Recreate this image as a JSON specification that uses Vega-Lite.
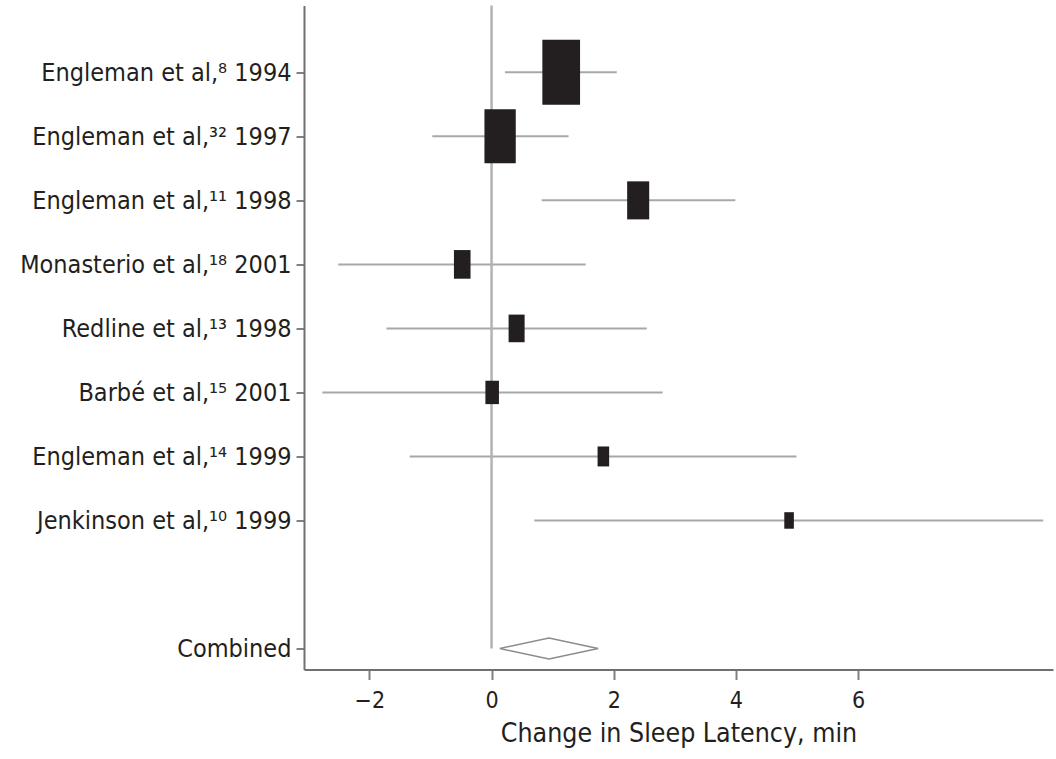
{
  "$schema": "https://vega.github.io/schema/vega-lite/v6.json",
  "width": 749,
  "height": 664,
  "autosize": {"type": "none"},
  "padding": {"left": 304, "top": 5.5, "right": 3, "bottom": 89.5},
  "background": "white",
  "config": {
    "view": {"stroke": null},
    "font": "DejaVu Sans Condensed, sans-serif",
    "axis": {
      "grid": false,
      "domainColor": "#707070",
      "domainWidth": 2,
      "tickColor": "#808080",
      "tickWidth": 2,
      "labelColor": "#231f20",
      "titleColor": "#231f20",
      "labelFont": "DejaVu Sans Condensed, sans-serif",
      "titleFont": "DejaVu Sans Condensed, sans-serif",
      "titleFontWeight": "normal",
      "labelLimit": 0
    }
  },
  "datasets": {
    "studies": [
      {"row": 0, "study": "Engleman et al,⁸ 1994", "est": 1.14, "lo": 0.22, "hi": 2.05, "weight": 37.1},
      {"row": 1, "study": "Engleman et al,³² 1997", "est": 0.14, "lo": -0.97, "hi": 1.26, "weight": 25.6},
      {"row": 2, "study": "Engleman et al,¹¹ 1998", "est": 2.4, "lo": 0.82, "hi": 3.99, "weight": 12.7},
      {"row": 3, "study": "Monasterio et al,¹⁸ 2001", "est": -0.48, "lo": -2.51, "hi": 1.54, "weight": 7.2},
      {"row": 4, "study": "Redline et al,¹³ 1998", "est": 0.41, "lo": -1.72, "hi": 2.54, "weight": 6.7},
      {"row": 5, "study": "Barbé et al,¹⁵ 2001", "est": 0.01, "lo": -2.77, "hi": 2.8, "weight": 4.8},
      {"row": 6, "study": "Engleman et al,¹⁴ 1999", "est": 1.83, "lo": -1.34, "hi": 4.99, "weight": 3.5},
      {"row": 7, "study": "Jenkinson et al,¹⁰ 1999", "est": 4.87, "lo": 0.7, "hi": 9.03, "weight": 2.4}
    ],
    "combined": [
      {"row": 9, "study": "Combined", "est": 0.94, "lo": 0.14, "hi": 1.75, "zero": 0, "top": -1.044}
    ]
  },
  "layer": [
    {
      "data": {"name": "studies"},
      "mark": {"type": "rule", "color": "#a8a8a8", "strokeWidth": 2},
      "encoding": {
        "x": {
          "field": "lo",
          "type": "quantitative",
          "scale": {"domain": [-3.07, 9.19], "nice": false, "zero": false},
          "axis": {
            "values": [-2, 0, 2, 4, 6],
            "format": "d",
            "tickSize": 10,
            "labelFontSize": 23,
            "labelPadding": 10,
            "title": "Change in Sleep Latency, min",
            "titleFontSize": 26.5,
            "titlePadding": 8
          }
        },
        "x2": {"field": "hi"},
        "y": {
          "field": "row",
          "type": "quantitative",
          "scale": {"domain": [-1.044, 9.328], "nice": false, "zero": false, "reverse": true},
          "axis": {
            "values": [0, 1, 2, 3, 4, 5, 6, 7, 9],
            "labelExpr": "['Engleman et al,⁸ 1994','Engleman et al,³² 1997','Engleman et al,¹¹ 1998','Monasterio et al,¹⁸ 2001','Redline et al,¹³ 1998','Barbé et al,¹⁵ 2001','Engleman et al,¹⁴ 1999','Jenkinson et al,¹⁰ 1999','','Combined'][datum.value]",
            "tickSize": 8,
            "labelFontSize": 25,
            "labelPadding": 5,
            "title": null
          }
        }
      }
    },
    {
      "data": {"name": "combined"},
      "mark": {"type": "rule", "color": "#b3b3b3", "strokeWidth": 2.5},
      "encoding": {
        "x": {"field": "zero", "type": "quantitative", "title": "Change in Sleep Latency, min"},
        "y": {"field": "top", "type": "quantitative", "title": null},
        "y2": {"field": "row"}
      }
    },
    {
      "data": {"name": "studies"},
      "mark": {
        "type": "point",
        "filled": true,
        "opacity": 1,
        "color": "#231f20",
        "shape": "M-0.58,-1H0.58V1H-0.58Z"
      },
      "encoding": {
        "x": {"field": "est", "type": "quantitative", "title": "Change in Sleep Latency, min"},
        "y": {"field": "row", "type": "quantitative", "title": null},
        "size": {
          "field": "weight",
          "type": "quantitative",
          "scale": {"type": "linear", "domain": [0, 37.1], "range": [0, 4225], "zero": true},
          "legend": null
        }
      }
    },
    {
      "data": {"name": "combined"},
      "mark": {
        "type": "point",
        "filled": false,
        "opacity": 1,
        "color": "#8c8c8c",
        "strokeWidth": 1.5,
        "size": 9663,
        "shape": "M-1,0L0,-0.215L1,0L0,0.215Z"
      },
      "encoding": {
        "x": {"field": "est", "type": "quantitative", "title": "Change in Sleep Latency, min"},
        "y": {"field": "row", "type": "quantitative", "title": null}
      }
    }
  ]
}
